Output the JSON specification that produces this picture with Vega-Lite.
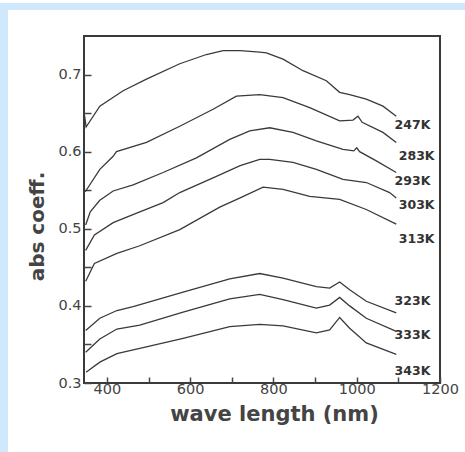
{
  "$schema": "https://vega.github.io/schema/vega-lite/v6.json",
  "background": "white",
  "padding": 0,
  "spacing": 0,
  "bounds": "flush",
  "datasets": {
    "curves": [
      {"T":"247K","nm":346,"v":0.648},{"T":"247K","nm":350,"v":0.632},{"T":"247K","nm":383,"v":0.659},{"T":"247K","nm":439,"v":0.679},{"T":"247K","nm":495,"v":0.694},{"T":"247K","nm":575,"v":0.714},{"T":"247K","nm":639,"v":0.726},{"T":"247K","nm":679,"v":0.731},{"T":"247K","nm":720,"v":0.731},{"T":"247K","nm":767,"v":0.729},{"T":"247K","nm":783,"v":0.728},{"T":"247K","nm":823,"v":0.72},{"T":"247K","nm":871,"v":0.705},{"T":"247K","nm":927,"v":0.692},{"T":"247K","nm":959,"v":0.677},{"T":"247K","nm":983,"v":0.674},{"T":"247K","nm":1023,"v":0.668},{"T":"247K","nm":1063,"v":0.659},{"T":"247K","nm":1095,"v":0.646},
      {"T":"283K","nm":348,"v":0.548},{"T":"283K","nm":383,"v":0.577},{"T":"283K","nm":415,"v":0.594},{"T":"283K","nm":423,"v":0.6},{"T":"283K","nm":495,"v":0.612},{"T":"283K","nm":575,"v":0.633},{"T":"283K","nm":655,"v":0.655},{"T":"283K","nm":711,"v":0.672},{"T":"283K","nm":767,"v":0.674},{"T":"283K","nm":823,"v":0.67},{"T":"283K","nm":887,"v":0.657},{"T":"283K","nm":959,"v":0.64},{"T":"283K","nm":991,"v":0.641},{"T":"283K","nm":1003,"v":0.646},{"T":"283K","nm":1013,"v":0.638},{"T":"283K","nm":1063,"v":0.625},{"T":"283K","nm":1095,"v":0.612},
      {"T":"293K","nm":349,"v":0.505},{"T":"293K","nm":360,"v":0.522},{"T":"293K","nm":383,"v":0.537},{"T":"293K","nm":415,"v":0.549},{"T":"293K","nm":463,"v":0.557},{"T":"293K","nm":535,"v":0.573},{"T":"293K","nm":615,"v":0.592},{"T":"293K","nm":695,"v":0.616},{"T":"293K","nm":743,"v":0.627},{"T":"293K","nm":791,"v":0.631},{"T":"293K","nm":847,"v":0.625},{"T":"293K","nm":903,"v":0.614},{"T":"293K","nm":967,"v":0.603},{"T":"293K","nm":993,"v":0.601},{"T":"293K","nm":1000,"v":0.605},{"T":"293K","nm":1007,"v":0.6},{"T":"293K","nm":1047,"v":0.588},{"T":"293K","nm":1095,"v":0.573},
      {"T":"303K","nm":349,"v":0.472},{"T":"303K","nm":370,"v":0.492},{"T":"303K","nm":415,"v":0.508},{"T":"303K","nm":470,"v":0.52},{"T":"303K","nm":535,"v":0.534},{"T":"303K","nm":575,"v":0.547},{"T":"303K","nm":655,"v":0.566},{"T":"303K","nm":720,"v":0.582},{"T":"303K","nm":767,"v":0.59},{"T":"303K","nm":791,"v":0.59},{"T":"303K","nm":847,"v":0.586},{"T":"303K","nm":903,"v":0.577},{"T":"303K","nm":967,"v":0.564},{"T":"303K","nm":1023,"v":0.56},{"T":"303K","nm":1079,"v":0.547},{"T":"303K","nm":1095,"v":0.54},
      {"T":"313K","nm":349,"v":0.432},{"T":"313K","nm":370,"v":0.455},{"T":"313K","nm":424,"v":0.468},{"T":"313K","nm":479,"v":0.478},{"T":"313K","nm":575,"v":0.499},{"T":"313K","nm":671,"v":0.528},{"T":"313K","nm":720,"v":0.54},{"T":"313K","nm":775,"v":0.554},{"T":"313K","nm":823,"v":0.551},{"T":"313K","nm":887,"v":0.542},{"T":"313K","nm":959,"v":0.538},{"T":"313K","nm":1023,"v":0.525},{"T":"313K","nm":1095,"v":0.506},
      {"T":"323K","nm":349,"v":0.368},{"T":"323K","nm":383,"v":0.384},{"T":"323K","nm":424,"v":0.394},{"T":"323K","nm":463,"v":0.399},{"T":"323K","nm":583,"v":0.418},{"T":"323K","nm":695,"v":0.435},{"T":"323K","nm":767,"v":0.442},{"T":"323K","nm":823,"v":0.436},{"T":"323K","nm":903,"v":0.425},{"T":"323K","nm":935,"v":0.423},{"T":"323K","nm":959,"v":0.431},{"T":"323K","nm":983,"v":0.421},{"T":"323K","nm":1023,"v":0.406},{"T":"323K","nm":1095,"v":0.391},
      {"T":"333K","nm":349,"v":0.34},{"T":"333K","nm":383,"v":0.357},{"T":"333K","nm":424,"v":0.37},{"T":"333K","nm":479,"v":0.375},{"T":"333K","nm":583,"v":0.392},{"T":"333K","nm":695,"v":0.409},{"T":"333K","nm":767,"v":0.415},{"T":"333K","nm":823,"v":0.408},{"T":"333K","nm":903,"v":0.397},{"T":"333K","nm":935,"v":0.401},{"T":"333K","nm":959,"v":0.411},{"T":"333K","nm":983,"v":0.4},{"T":"333K","nm":1023,"v":0.384},{"T":"333K","nm":1095,"v":0.367},
      {"T":"343K","nm":350,"v":0.314},{"T":"343K","nm":383,"v":0.327},{"T":"343K","nm":424,"v":0.338},{"T":"343K","nm":479,"v":0.345},{"T":"343K","nm":583,"v":0.358},{"T":"343K","nm":695,"v":0.373},{"T":"343K","nm":767,"v":0.376},{"T":"343K","nm":823,"v":0.374},{"T":"343K","nm":903,"v":0.365},{"T":"343K","nm":935,"v":0.369},{"T":"343K","nm":959,"v":0.385},{"T":"343K","nm":983,"v":0.371},{"T":"343K","nm":1023,"v":0.352},{"T":"343K","nm":1095,"v":0.337}
    ],
    "labels": [
      {"T":"247K","nm":1091,"v":0.635},
      {"T":"283K","nm":1101,"v":0.595},
      {"T":"293K","nm":1091,"v":0.562},
      {"T":"303K","nm":1101,"v":0.531},
      {"T":"313K","nm":1101,"v":0.487},
      {"T":"323K","nm":1091,"v":0.406},
      {"T":"333K","nm":1091,"v":0.362},
      {"T":"343K","nm":1091,"v":0.316}
    ]
  },
  "hconcat": [
    {
      "width": 8,
      "height": 452,
      "view": {"fill": "#cfe8fb", "stroke": null},
      "data": {"values": [{}]},
      "mark": {"type": "text"},
      "encoding": {"text": {"value": ""}}
    },
    {
      "vconcat": [
        {
          "width": 457,
          "height": 7,
          "view": {"fill": "#cfe8fb", "stroke": null},
          "data": {"values": [{}]},
          "mark": {"type": "text"},
          "encoding": {"text": {"value": ""}}
        },
        {
          "hconcat": [
            {
              "width": 1,
              "height": 347,
              "view": {"stroke": null},
              "data": {"values": [{}]},
              "mark": {"type": "text"},
              "encoding": {"text": {"value": ""}}
            },
            {
              "width": 356,
              "height": 347,
              "view": {"stroke": "#3a3a3a", "strokeWidth": 2},
              "layer": [
                {
                  "data": {"name": "curves"},
                  "mark": {"type": "line", "color": "#3a3a3a", "strokeWidth": 1.3},
                  "encoding": {
                    "x": {
                      "field": "nm", "type": "quantitative",
                      "scale": {"domain": [345, 1200], "nice": false, "zero": false},
                      "axis": {
                        "values": [400, 500, 600, 700, 800, 900, 1000, 1100, 1200],
                        "labelExpr": "datum.value % 200 === 0 ? datum.label : ''",
                        "format": "d",
                        "grid": false,
                        "domain": false,
                        "tickSize": -6,
                        "tickColor": "#444",
                        "tickWidth": 1.5,
                        "labelFont": "DejaVu Sans",
                        "labelFontSize": 14.5,
                        "labelColor": "#444",
                        "labelPadding": 5,
                        "labelFlush": false,
                        "labelOverlap": false,
                        "title": "wave length (nm)",
                        "titleFont": "DejaVu Sans",
                        "titleFontSize": 21,
                        "titleFontWeight": "bold",
                        "titleColor": "#444",
                        "titlePadding": 8,
                        "titleX": 190
                      }
                    },
                    "y": {
                      "field": "v", "type": "quantitative",
                      "scale": {"domain": [0.3, 0.75], "nice": false, "zero": false},
                      "axis": {
                        "values": [0.3, 0.35, 0.4, 0.45, 0.5, 0.55, 0.6, 0.65, 0.7],
                        "labelExpr": "abs(datum.value * 10 - round(datum.value * 10)) < 0.01 ? format(datum.value, '.1f') : ''",
                        "grid": false,
                        "domain": false,
                        "tickSize": -7,
                        "tickColor": "#444",
                        "tickWidth": 1.5,
                        "labelFont": "DejaVu Sans",
                        "labelFontSize": 14.5,
                        "labelColor": "#444",
                        "labelPadding": 10,
                        "labelFlush": false,
                        "labelOverlap": false,
                        "title": "abs coeff.",
                        "titleFont": "DejaVu Sans",
                        "titleFontSize": 20,
                        "titleFontWeight": "bold",
                        "titleColor": "#444",
                        "titlePadding": 10,
                        "titleY": 190
                      }
                    },
                    "detail": {"field": "T"},
                    "order": {"field": "nm", "type": "quantitative"}
                  }
                },
                {
                  "data": {"name": "labels"},
                  "mark": {"type": "text", "align": "left", "baseline": "middle", "font": "DejaVu Sans", "fontWeight": "bold", "fontSize": 12.5, "color": "#333"},
                  "encoding": {
                    "x": {"field": "nm", "type": "quantitative"},
                    "y": {"field": "v", "type": "quantitative"},
                    "text": {"field": "T"}
                  }
                }
              ]
            }
          ],
          "spacing": 75,
          "bounds": "flush"
        }
      ],
      "spacing": 26,
      "bounds": "flush"
    }
  ]
}
